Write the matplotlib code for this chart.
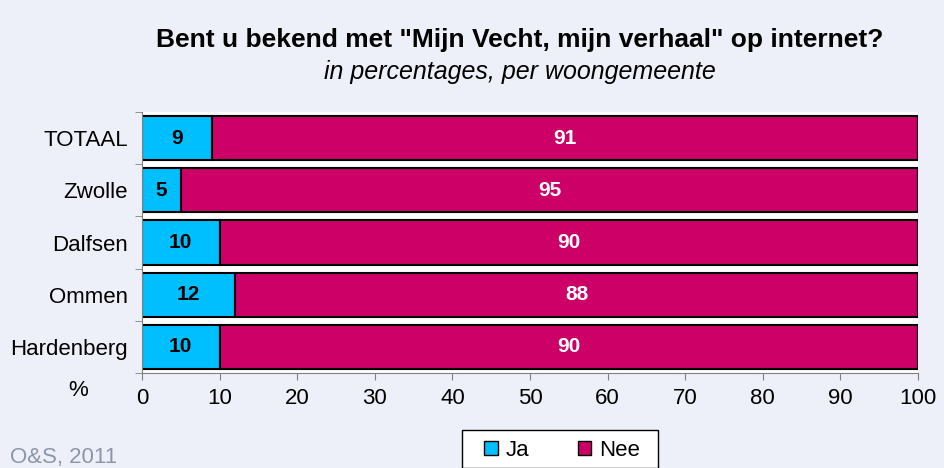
import numpy as np
import matplotlib
matplotlib.use("Agg")
import matplotlib.pyplot as plt
from matplotlib.patches import Patch, Rectangle

plt.rcParams['font.family'] = ['Liberation Sans', 'DejaVu Sans']

gemeenten = ['TOTAAL', 'Zwolle', 'Dalfsen', 'Ommen', 'Hardenberg']
ja = [9, 5, 10, 12, 10]
nee = [91, 95, 90, 88, 90]

bg = '#EDF0F8'
c_ja = '#00BFFF'
c_nee = '#CC0066'

fig = plt.figure(figsize=(9.44, 4.68), dpi=100, facecolor=bg)
ax = fig.add_axes([142 / 944, 1 - 373 / 468, 776 / 944, 261 / 468])
ax.set_facecolor('white')

y = np.arange(len(gemeenten))
ax.barh(y, ja, height=0.85, color=c_ja, edgecolor='black', linewidth=1.5, label='Ja')
ax.barh(y, nee, left=ja, height=0.85, color=c_nee, edgecolor='black', linewidth=1.5, label='Nee')

for i in range(len(gemeenten)):
    ax.text(ja[i] / 2, y[i], str(ja[i]), ha='center', va='center',
            fontsize=15, fontweight='bold', color='black')
    ax.text(ja[i] + nee[i] / 2, y[i], str(nee[i]), ha='center', va='center',
            fontsize=15, fontweight='bold', color='white')

ax.set_xlim(0, 100)
ax.set_ylim(len(gemeenten) - 0.5, -0.5)
ax.set_xticks(range(0, 101, 10))
ax.tick_params(axis='x', labelsize=16, length=5, color='#808080', pad=6)

ax.set_yticks(y)
ax.set_yticklabels(gemeenten, fontsize=16)
ax.set_yticks(np.arange(-0.5, len(gemeenten)), minor=True)
ax.tick_params(axis='y', which='major', length=0, pad=10)
ax.tick_params(axis='y', which='minor', length=5, color='#808080')

for s in ['top', 'right']:
    ax.spines[s].set_visible(False)
ax.spines['left'].set_color('#808080')
ax.spines['bottom'].set_color('#808080')

fig.text(520 / 944, 1 - 40 / 468, 'Bent u bekend met "Mijn Vecht, mijn verhaal" op internet?',
         ha='center', va='center', fontsize=19, fontweight='bold')
fig.text(520 / 944, 1 - 72 / 468, 'in percentages, per woongemeente',
         ha='center', va='center', fontsize=18, fontstyle='italic')
fig.text(78 / 944, 1 - 391 / 468, '%', ha='center', va='center', fontsize=16)
fig.text(10 / 944, 1 - 457 / 468, 'O&S, 2011', ha='left', va='center', fontsize=16, color='#8C96A8')

# legend frame drawn separately (reference box is wider than its content)
fig.patches.append(Rectangle((462 / 944, 0), 196 / 944, 1 - 430 / 468, transform=fig.transFigure,
                             facecolor='white', edgecolor='black', linewidth=1, zorder=1))
handles = [Patch(facecolor=c_ja, edgecolor='black'), Patch(facecolor=c_nee, edgecolor='black')]
leg = fig.legend(handles, ['Ja', 'Nee'], loc='center', bbox_to_anchor=(562 / 944, 1 - 450 / 468),
                 ncol=2, fontsize=16, frameon=False, handlelength=0.6, handleheight=0.6,
                 columnspacing=2.2, borderpad=0, handletextpad=0.35, borderaxespad=0)
leg.set_zorder(2)

fig.savefig('out.png', dpi=100, facecolor=bg)
